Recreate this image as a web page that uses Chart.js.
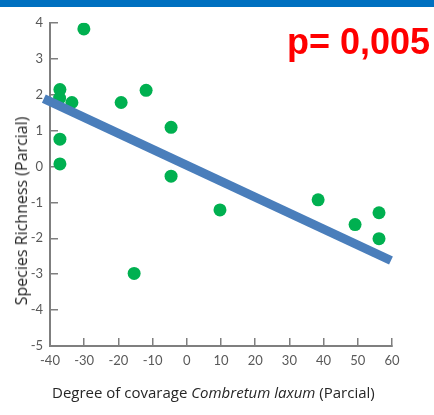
<!DOCTYPE html>
<html>
<head>
<meta charset="utf-8">
<script src="https://cdn.jsdelivr.net/npm/chart.js@4"></script>
<style>
  body { margin: 0; background: #fff; }
  #wrap { position: relative; width: 434px; height: 415px; overflow: hidden; }
  #bar { position: absolute; left: 0; top: 0; width: 434px; height: 7px; background: #0070c0; }
  #pval { position: absolute; left: 287px; top: 24px; font: bold 36px "Liberation Sans", Arial, sans-serif; line-height: 36px; color: #ff0000; white-space: nowrap; }
  #ylab { position: absolute; left: 21px; top: 211px; transform: translate(-50%, -50%) rotate(-90deg); font: 16px "Open Sans", sans-serif; color: #262626; white-space: nowrap; }
  #xlab { position: absolute; left: 52px; top: 382px; font: 15px "Open Sans", sans-serif; color: #262626; white-space: nowrap; }
  canvas { position: absolute; left: 0; top: 0; }
</style>
</head>
<body>
<div id="wrap">
  <canvas id="grafico" width="434" height="415"></canvas>
  <div id="bar"></div>
  <div id="pval">p= 0,005</div>
  <div id="ylab">Species Richness (Parcial)</div>
  <div id="xlab">Degree of covarage <i>Combretum laxum</i> (Parcial)</div>
</div>
<script>
// pontos
const coberturaX = [-30.1, -37.1, -37.2, -33.6, -19.2, -11.9, -4.6, -37.1, -37.1, -4.6, 9.7, -15.4, 38.4, 49.2, 56.2, 56.2];
const riquezaY   = [3.83, 2.14, 1.90, 1.78, 1.78, 2.12, 1.09, 0.76, 0.07, -0.27, -1.21, -2.98, -0.93, -1.62, -1.29, -2.01];

// linha de regressão (extremos)
const linhaX = [-41.8, 59.7];
const linhaY = [1.89, -2.62];

const ticksX = [-40, -30, -20, -10, 0, 10, 20, 30, 40, 50, 60];
const ticksY = [-5, -4, -3, -2, -1, 0, 1, 2, 3, 4];

const pontos = coberturaX.map((x, i) => ({ x: x, y: riquezaY[i] }));
const linha = linhaX.map((x, i) => ({ x: x, y: linhaY[i] }));

const corEixo = '#7f7f7f';
const fonteTick = { family: 'Lato, sans-serif', size: 13 };

const ctx = document.getElementById('grafico').getContext('2d');

new Chart(ctx, {
    type: 'scatter',
    data: {
        datasets: [
            {
                type: 'line',
                data: linha,
                borderColor: '#4a7ebb',
                borderWidth: 9,
                borderCapStyle: 'butt',
                pointRadius: 0,
                clip: false,
                order: 0
            },
            {
                data: pontos,
                backgroundColor: '#00b050',
                borderWidth: 0,
                pointRadius: 6.5,
                order: 1
            }
        ]
    },
    options: {
        responsive: false,
        animation: false,
        layout: { padding: { left: 0, top: 21, right: 42, bottom: 0 } },
        plugins: { legend: { display: false }, tooltip: { enabled: false } },
        scales: {
            x: {
                type: 'linear',
                min: -40,
                max: 60,
                afterBuildTicks: (s) => { s.ticks = ticksX.map(v => ({ value: v })); },
                afterFit: (s) => { s.height = 69; },
                ticks: { color: '#595959', font: fonteTick, padding: 15, maxRotation: 0 },
                grid: { drawOnChartArea: false, tickLength: -8, color: corEixo, lineWidth: 1.5 },
                border: { color: corEixo, width: 2 }
            },
            y: {
                type: 'linear',
                min: -5,
                max: 4,
                afterBuildTicks: (s) => { s.ticks = ticksY.map(v => ({ value: v })); },
                afterFit: (s) => { s.width = 50; },
                ticks: { color: '#595959', font: fonteTick, padding: 15 },
                grid: { drawOnChartArea: false, tickLength: -8, color: corEixo, lineWidth: 1.5 },
                border: { color: corEixo, width: 2 }
            }
        }
    }
});
</script>
</body>
</html>
